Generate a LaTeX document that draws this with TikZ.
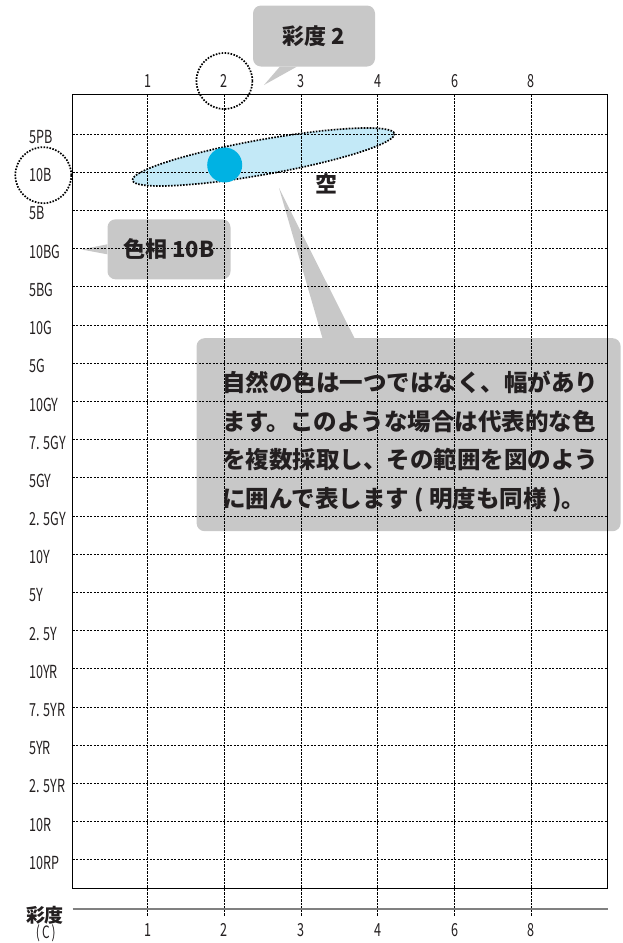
\documentclass[tikz,border=0pt]{standalone}
\usepackage{fontspec}
\setmainfont{Noto Sans CJK JP}
\newfontfamily\axisfont{Noto Sans CJK JP}[FakeStretch=0.7]
\usepackage{xcolor}
\definecolor{callgray}{RGB}{200,200,200}
\definecolor{skyfill}{RGB}{195,233,247}
\definecolor{dotblue}{RGB}{0,178,227}
\definecolor{inkgray}{RGB}{35,31,32}
\definecolor{axisgray}{RGB}{128,128,128}

\begin{document}
\begin{tikzpicture}[x=1pt,y=-1pt,
  callout/.style={fill=callgray, rounded corners=8pt, inner sep=0pt},
  calltext/.style={font=\bfseries\fontsize{22}{26}\selectfont, text=inkgray, inner sep=0pt},
  axislab/.style={font=\axisfont\fontsize{18}{18}\selectfont, text=inkgray, inner sep=0pt},
  gridline/.style={line width=0.8pt, dash pattern=on 2.2pt off 1.3pt},
  ringmark/.style={line width=1.7pt, dash pattern=on 1.6pt off 1.4pt}]
  \useasboundingbox (0,0) rectangle (622,943);

  % Callout boxes and their pointers
  \node[callout, minimum width=122, minimum height=61] (satbox) at (314,36) {};
  \coordinate (sattip) at (264,85);
  \fill[callgray] ([xshift=27pt]satbox.south west) -- (sattip) -- ([xshift=44pt]satbox.south west) -- cycle;
  \node[callout, minimum width=123, minimum height=60] (huebox) at (169,249.3) {};
  \coordinate (huetip) at (81.5,249.5);
  \fill[callgray] ([yshift=5pt]huebox.west) -- (huetip) -- ([yshift=-5pt]huebox.west) -- cycle;
  \node[callout, minimum width=424, minimum height=193] (notebox) at (408.6,434.7) {};
  \coordinate (notetip) at (279,188);
  \fill[callgray] ([xshift=126pt]notebox.north west) -- (notetip) -- ([xshift=158pt]notebox.north west) -- cycle;

  % Sky range
  \coordinate (sky) at (263.5,157);
  \fill[skyfill, rotate around={10.1:(sky)}] (sky) ellipse [x radius=133, y radius=17.5];

  % Grid
  \foreach \i in {0,...,19}
    \draw[gridline] (72.5,134+38.2*\i) -- (607.5,134+38.2*\i);
  \foreach \j in {1,...,6}
    \draw[gridline] (71+76.7*\j,94.3) -- (71+76.7*\j,916.7);
  \draw[line width=1.6pt] (72.5,94.3) rectangle (607.5,888.3);
  \draw[axisgray, line width=1.2pt] (72.5,909) -- (607.5,909);

  \draw[ringmark, rotate around={10.1:(sky)}] (sky) ellipse [x radius=133, y radius=17.5];
  \fill[dotblue] (224.7,165) circle (17.5);

  % Axis labels
  \foreach \lab [count=\i from 0] in {5PB,10B,5B,10BG,5BG,10G,5G,10GY,7. 5GY,5GY,2. 5GY,10Y,5Y,2. 5Y,10YR,7. 5YR,5YR,2. 5YR,10R,10RP}
    \node[axislab, anchor=west] (hue\i) at (29,137+38.2*\i) {\lab};
  \foreach \lab [count=\j] in {1,2,3,4,6,8} {
    \node[axislab] (top\j) at (71+76.7*\j,81) {\lab};
    \node[axislab] (bot\j) at (71+76.7*\j,930) {\lab};
  }
  \node[calltext, font=\bfseries\fontsize{19}{19}\selectfont] (cname) at (45,915.5) {彩度};
  \node[axislab, font=\axisfont\fontsize{17}{17}\selectfont] (cunit) at (45.8,933) {(\kern2pt C\kern2pt)};

  \draw[ringmark] (top2) circle (28);
  \draw[ringmark] (hue1.center) ++(3,0) circle (28);

  % Callout texts
  \node[calltext] (sattext) at (satbox) {彩度 2};
  \node[calltext] (huetext) at (huebox) {色相 10B};
  \node[calltext] (skytext) at (326,183.5) {空};
  \node[calltext, font=\bfseries\fontsize{23.5}{38.4}\selectfont, anchor=north west, align=left] (notetext) at (222,371)
    {自然の色は一つではなく、幅があり\\ます。このような場合は代表的な色\\を複数採取し、その範囲を図のよう\\に囲んで表します ( 明度も同様 )。};
\end{tikzpicture}
\end{document}
